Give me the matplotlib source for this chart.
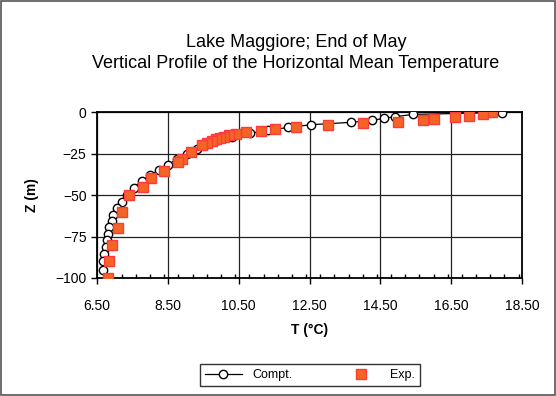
import matplotlib
matplotlib.use("Agg")
import matplotlib.pyplot as plt
from matplotlib.patches import Rectangle
from matplotlib.ticker import MultipleLocator

# computed profile (Compt.)
t_comp = [17.93, 15.43, 14.91, 14.60, 14.26, 13.66, 12.55, 11.90, 11.34, 10.82,
          10.30, 9.92, 9.60, 9.31, 9.03, 8.75, 8.49, 8.25, 8.00, 7.76,
          7.53, 7.35, 7.21, 7.06, 6.96, 6.91, 6.85, 6.80, 6.77, 6.74,
          6.71, 6.66, 6.68]
z_comp = [-0.3, -1.4, -2.8, -3.8, -5.0, -6.2, -7.6, -9.3, -10.9, -12.8,
          -15.0, -17.0, -19.3, -22.0, -25.0, -28.3, -32.0, -35.0, -38.0, -41.5,
          -45.5, -50.0, -54.0, -58.0, -62.0, -65.5, -69.3, -73.3, -77.4, -81.5,
          -85.5, -90.0, -95.0]

# measured profile (Exp.)
t_exp = [17.65, 17.40, 17.00, 16.60, 16.00, 15.70, 15.00, 14.00, 13.03, 12.12,
         11.53, 11.12, 10.70, 10.42, 10.22, 10.08, 9.97, 9.87, 9.75, 9.60,
         9.45, 9.15, 8.89, 8.80, 8.40, 8.02, 7.81, 7.41, 7.20, 7.10,
         6.92, 6.85, 6.80]
z_exp = [0.0, -1.2, -2.2, -2.8, -4.2, -4.8, -6.2, -6.8, -8.0, -9.3,
         -10.2, -11.2, -12.2, -13.2, -14.0, -14.9, -15.6, -16.5, -17.6, -18.8,
         -20.0, -24.0, -28.5, -30.3, -35.3, -40.0, -45.0, -50.0, -60.0, -70.0,
         -80.0, -90.0, -100.0]

x_ticks = [6.5, 8.5, 10.5, 12.5, 14.5, 16.5, 18.5]
y_ticks = [0, -25, -50, -75, -100]

plt.rcParams['font.family'] = ['Liberation Sans', 'DejaVu Sans']

fig = plt.figure(figsize=(5.56, 3.96), dpi=100)
fig.patches.append(Rectangle((0.002, 0.002), 0.996, 0.996, transform=fig.transFigure,
                             fill=False, edgecolor='#555555', linewidth=1.2))
ax = fig.add_axes([0.1745, 0.298, 0.7645, 0.419])

ax.plot(t_comp, z_comp, color='black', linewidth=0.9, marker='o', markersize=6,
        markerfacecolor='white', markeredgecolor='black', markeredgewidth=1.0,
        label='Compt.', zorder=3)
ax.plot(t_exp, z_exp, linestyle='none', marker='s', markersize=7,
        markerfacecolor='#F26524', markeredgecolor='#FF3A3A', markeredgewidth=1.0,
        label='Exp.', zorder=4)

ax.set_xlim(6.5, 18.5)
ax.set_ylim(-100, 0)
ax.set_xticks(x_ticks)
ax.set_xticklabels(['%.2f' % v for v in x_ticks])
ax.set_yticks(y_ticks)
ax.xaxis.set_minor_locator(MultipleLocator(0.4))
ax.tick_params(axis='both', which='major', direction='out', length=4, width=1,
               labelsize=10, colors='black')
ax.tick_params(axis='x', which='minor', direction='in', length=3, width=1)
ax.tick_params(axis='x', pad=11)
ax.grid(True, which='major', color='#222222', linewidth=0.9)
ax.set_axisbelow(True)
for s in ax.spines.values():
    s.set_linewidth(1.3)
    s.set_color('black')

ax.set_xlabel('T (°C)', fontsize=10, fontweight='bold', labelpad=7)
ax.set_ylabel('Z (m)', fontsize=10, fontweight='bold', labelpad=12)

fig.text(0.532, 0.893, 'Lake Maggiore; End of May', ha='center', va='center', fontsize=13)
fig.text(0.532, 0.840, 'Vertical Profile of the Horizontal Mean Temperature',
         ha='center', va='center', fontsize=13)

leg = fig.legend(loc='center', bbox_to_anchor=(0.557, 0.053), ncol=2, fontsize=9,
                 frameon=True, fancybox=False, edgecolor='black', handlelength=3,
                 columnspacing=4, borderpad=0.4)
leg.get_frame().set_linewidth(1.0)

fig.savefig('out.png', dpi=100)
